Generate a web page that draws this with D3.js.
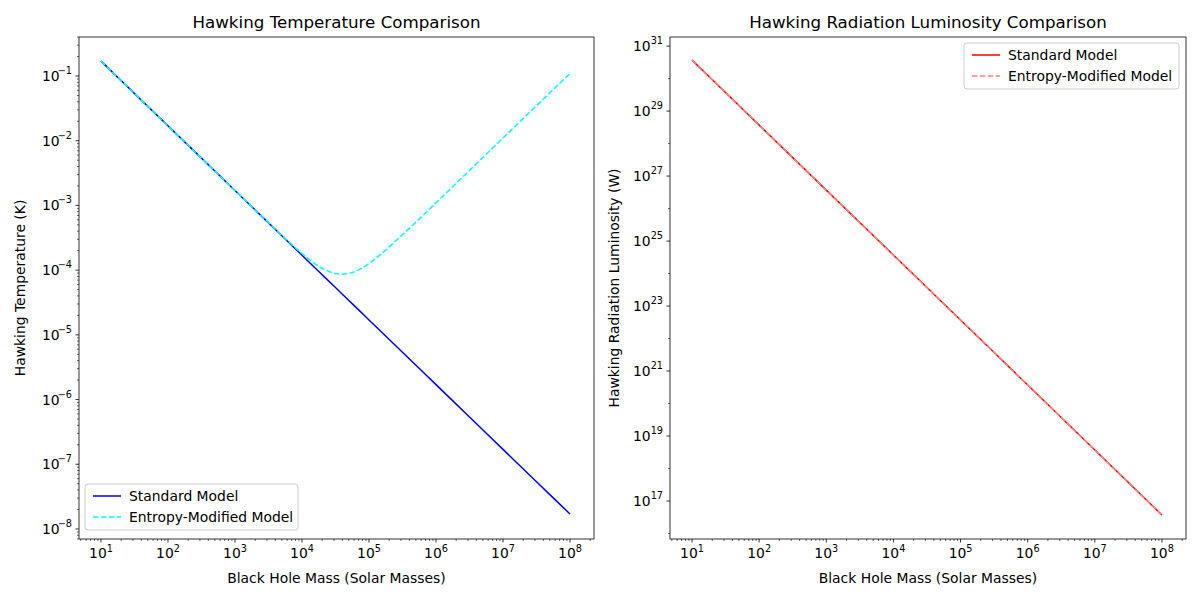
<!DOCTYPE html>
<html><head><meta charset="utf-8">
<script src="https://cdn.jsdelivr.net/npm/d3@7"></script>
<style>body{margin:0;background:#fff}text{font-family:"DejaVu Sans",sans-serif}</style>
</head><body><svg id="c" width="1200" height="600"></svg>
<script>
const massT = [10,31.6,100,316,1000,3160,7000,10000,20000,31600,40000,50000,70000,100000,316000,1e6,3.16e6,1e7,3.16e7,1e8];
const tempStandard = [0.17,0.0538,0.017,0.00538,0.0017,5.38e-4,2.43e-4,1.7e-4,8.5e-5,5.38e-5,4.25e-5,3.4e-5,2.43e-5,1.7e-5,5.38e-6,1.7e-6,5.38e-7,1.7e-7,5.38e-8,1.7e-8];
const tempModified = [0.17,0.0538,0.017,0.00538,0.0017,5.41e-4,2.5e-4,1.81e-4,1.07e-4,8.86e-5,8.65e-5,8.9e-5,1.01e-4,1.27e-4,3.53e-4,1.1e-3,3.48e-3,0.011,0.0348,0.11];
const massL = [10,100,1000,10000,1e5,1e6,1e7,1e8];
const lumStandard = [3.7e30,3.7e28,3.7e26,3.7e24,3.7e22,3.7e20,3.7e18,3.7e16];
const lumModified = [3.7e30,3.7e28,3.7e26,3.7e24,3.7e22,3.7e20,3.7e18,3.7e16];
const xTickExps = [1,2,3,4,5,6,7,8];
const yTickExpsT = [-8,-7,-6,-5,-4,-3,-2,-1];
const yTickExpsL = [17,19,21,23,25,27,29,31];

const svg = d3.select("#c");
function panel(o){
  const g = svg.append("g");
  const x = d3.scaleLog().domain(o.xd).range([o.x0,o.x1]);
  const y = d3.scaleLog().domain(o.yd).range([o.y1,o.y0]);
  const minorX=[];
  for(let e=0;e<=8;e++) for(let k=2;k<10;k++){const v=k*Math.pow(10,e); if(v>=o.xd[0]&&v<=o.xd[1]) minorX.push(v);}
  minorX.forEach(v=>g.append("line").attr("x1",x(v)).attr("x2",x(v)).attr("y1",o.y1).attr("y2",o.y1+2).attr("stroke","#000").attr("stroke-width",0.6));
  o.yMinor.forEach(v=>{ if(v>=o.yd[0]&&v<=o.yd[1]) g.append("line").attr("x1",o.x0).attr("x2",o.x0-2).attr("y1",y(v)).attr("y2",y(v)).attr("stroke","#000").attr("stroke-width",0.6);});
  xTickExps.forEach(e=>{const px=x(Math.pow(10,e));
    g.append("line").attr("x1",px).attr("x2",px).attr("y1",o.y1).attr("y2",o.y1+3.5).attr("stroke","#000").attr("stroke-width",0.8);
    const t=g.append("text").attr("x",px).attr("y",o.y1+19).attr("text-anchor","middle").attr("font-size",13.9);
    t.append("tspan").text("10"); t.append("tspan").attr("dy",-6).attr("font-size",9.7).text(e);
  });
  o.yTicks.forEach(e=>{const py=y(Math.pow(10,e));
    g.append("line").attr("x1",o.x0).attr("x2",o.x0-3.5).attr("y1",py).attr("y2",py).attr("stroke","#000").attr("stroke-width",0.8);
    const s=String(e).replace("-","\u2212");
    g.append("text").attr("x",o.x0-7-s.length*6.2).attr("y",py+5).attr("text-anchor","end").attr("font-size",13.9).text("10");
    g.append("text").attr("x",o.x0-7).attr("y",py-2).attr("text-anchor","end").attr("font-size",9.7).text(s);
  });
  const line=d3.line().x(d=>x(d[0])).y(d=>y(d[1])).curve(d3.curveMonotoneX);
  o.series.forEach(s=>{
    g.append("path").datum(s.xs.map((v,i)=>[v,s.ys[i]])).attr("d",line).attr("fill","none")
     .attr("stroke",s.color).attr("stroke-width",1.5).attr("stroke-dasharray",s.dash||null);
  });
  g.append("rect").attr("x",o.x0).attr("y",o.y0).attr("width",o.x1-o.x0).attr("height",o.y1-o.y0).attr("fill","none").attr("stroke","#000").attr("stroke-width",0.8);
  g.append("text").attr("x",(o.x0+o.x1)/2).attr("y",o.y0-9).attr("text-anchor","middle").attr("font-size",16.7).text(o.title);
  g.append("text").attr("x",(o.x0+o.x1)/2).attr("y",583).attr("text-anchor","middle").attr("font-size",13.9).text("Black Hole Mass (Solar Masses)");
  g.append("text").attr("transform",`translate(${o.ylx},${(o.y0+o.y1)/2}) rotate(-90)`).attr("text-anchor","middle").attr("font-size",13.9).text(o.ylabel);
  const L=o.leg;
  g.append("rect").attr("x",L.x).attr("y",L.y).attr("width",L.w).attr("height",46).attr("rx",3).attr("fill","#fff").attr("fill-opacity",0.8).attr("stroke","#ccc");
  o.series.forEach((s,i)=>{const ly=L.y+12+i*21;
    g.append("line").attr("x1",L.x+8).attr("x2",L.x+36).attr("y1",ly).attr("y2",ly).attr("stroke",s.color).attr("stroke-width",1.5).attr("stroke-dasharray",s.dash||null);
    g.append("text").attr("x",L.x+44).attr("y",ly+5).attr("font-size",13.9).text(s.name);
  });
}
const minorT=[]; for(let e=-9;e<=0;e++) for(let k=2;k<10;k++) minorT.push(k*Math.pow(10,e));
const minorL=[]; for(let e=16;e<=31;e+=2) minorL.push(Math.pow(10,e));
panel({x0:79,x1:594,y0:37,y1:539,xd:[Math.pow(10,0.672),Math.pow(10,8.358)],yd:[Math.pow(10,-8.155),Math.pow(10,-0.397)],
  yTicks:yTickExpsT,yMinor:minorT,title:"Hawking Temperature Comparison",ylabel:"Hawking Temperature (K)",ylx:25,
  leg:{x:85,y:484,w:213},
  series:[{xs:massT,ys:tempStandard,color:"#0000ff",name:"Standard Model"},{xs:massT,ys:tempModified,color:"#00ffff",dash:"5.5,2.4",name:"Entropy-Modified Model"}]});
panel({x0:670,x1:1186,y0:37,y1:539,xd:[Math.pow(10,0.672),Math.pow(10,8.358)],yd:[Math.pow(10,15.83),Math.pow(10,31.28)],
  yTicks:yTickExpsL,yMinor:minorL,title:"Hawking Radiation Luminosity Comparison",ylabel:"Hawking Radiation Luminosity (W)",ylx:619,
  leg:{x:964,y:43,w:215},
  series:[{xs:massL,ys:lumStandard,color:"#ff0000",name:"Standard Model"},{xs:massL,ys:lumModified,color:"#ff8080",dash:"5.5,2.4",name:"Entropy-Modified Model"}]});
</script></body></html>
